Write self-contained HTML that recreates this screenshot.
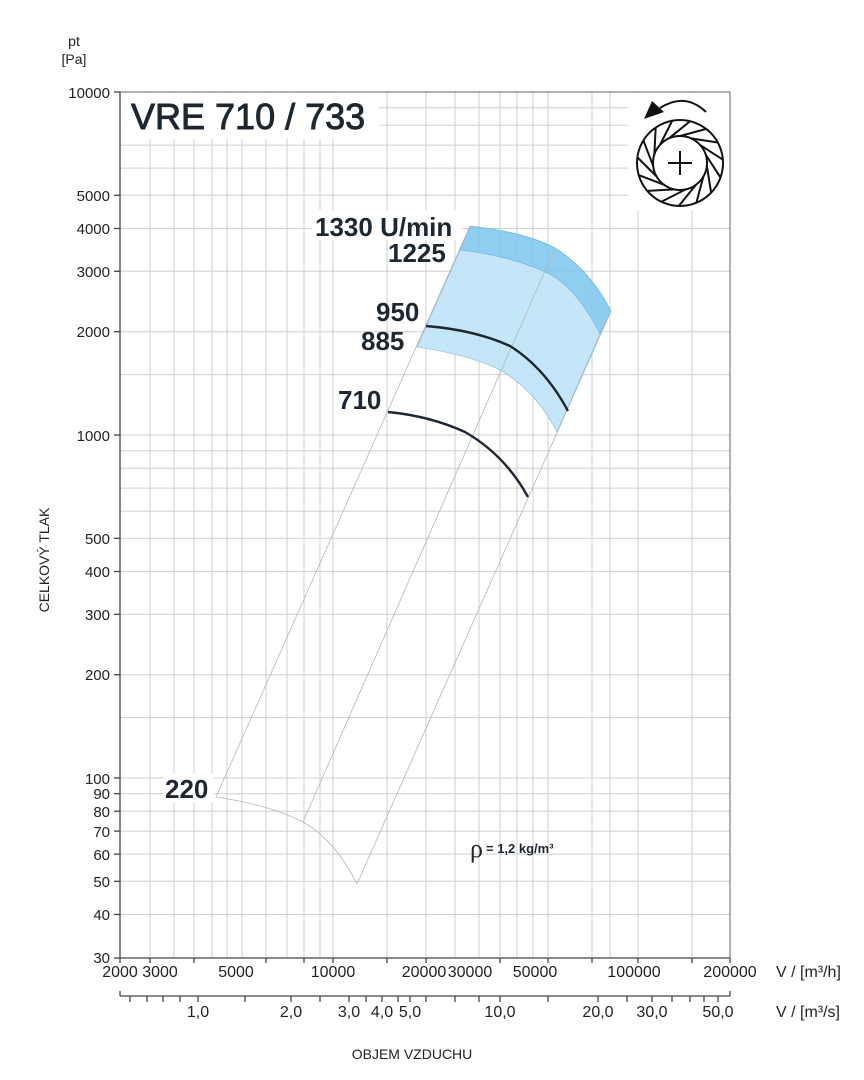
<!DOCTYPE html>
<html><head><meta charset="utf-8"><style>
body{margin:0;background:#fff}
svg{display:block;font-family:"Liberation Sans",Arial,sans-serif}
</style></head><body>
<svg width="864" height="1080" viewBox="0 0 864 1080" xmlns="http://www.w3.org/2000/svg">
<g stroke="#cfcfcf" stroke-width="1">
<line x1="150" y1="92" x2="150" y2="958"/><line x1="174" y1="92" x2="174" y2="958"/><line x1="194" y1="92" x2="194" y2="958"/><line x1="212" y1="92" x2="212" y2="958"/><line x1="227" y1="92" x2="227" y2="958"/><line x1="242" y1="92" x2="242" y2="958"/><line x1="266" y1="92" x2="266" y2="958"/><line x1="287" y1="92" x2="287" y2="958"/><line x1="304" y1="92" x2="304" y2="958"/><line x1="320" y1="92" x2="320" y2="958"/><line x1="333" y1="92" x2="333" y2="958"/><line x1="387" y1="92" x2="387" y2="958"/><line x1="426" y1="92" x2="426" y2="958"/><line x1="455" y1="92" x2="455" y2="958"/><line x1="479" y1="92" x2="479" y2="958"/><line x1="500" y1="92" x2="500" y2="958"/><line x1="517" y1="92" x2="517" y2="958"/><line x1="533" y1="92" x2="533" y2="958"/><line x1="548" y1="92" x2="548" y2="958"/><line x1="592" y1="92" x2="592" y2="958"/><line x1="610" y1="92" x2="610" y2="958"/><line x1="638" y1="92" x2="638" y2="958"/><line x1="692" y1="92" x2="692" y2="958"/>
<line x1="120" y1="107.7" x2="730" y2="107.7"/><line x1="120" y1="125.2" x2="730" y2="125.2"/><line x1="120" y1="145.1" x2="730" y2="145.1"/><line x1="120" y1="168.1" x2="730" y2="168.1"/><line x1="120" y1="195.3" x2="730" y2="195.3"/><line x1="120" y1="228.5" x2="730" y2="228.5"/><line x1="120" y1="271.3" x2="730" y2="271.3"/><line x1="120" y1="331.7" x2="730" y2="331.7"/><line x1="120" y1="374.6" x2="730" y2="374.6"/><line x1="120" y1="435" x2="730" y2="435"/><line x1="120" y1="450.7" x2="730" y2="450.7"/><line x1="120" y1="468.2" x2="730" y2="468.2"/><line x1="120" y1="488.1" x2="730" y2="488.1"/><line x1="120" y1="511.1" x2="730" y2="511.1"/><line x1="120" y1="538.3" x2="730" y2="538.3"/><line x1="120" y1="571.5" x2="730" y2="571.5"/><line x1="120" y1="614.3" x2="730" y2="614.3"/><line x1="120" y1="674.7" x2="730" y2="674.7"/><line x1="120" y1="717.6" x2="730" y2="717.6"/><line x1="120" y1="778" x2="730" y2="778"/><line x1="120" y1="793.7" x2="730" y2="793.7"/><line x1="120" y1="811.2" x2="730" y2="811.2"/><line x1="120" y1="831.1" x2="730" y2="831.1"/><line x1="120" y1="854.1" x2="730" y2="854.1"/><line x1="120" y1="881.3" x2="730" y2="881.3"/><line x1="120" y1="914.5" x2="730" y2="914.5"/>
</g>
<rect x="121" y="93" width="258" height="46" fill="#fff"/>
<rect x="628" y="93" width="101" height="117" fill="#fff"/>
<g stroke="#444" stroke-width="1.3" fill="none">
<line x1="120" y1="92" x2="120" y2="958"/>
<line x1="120" y1="958" x2="730" y2="958"/>
<line x1="120" y1="92" x2="730" y2="92" stroke="#666" stroke-width="1"/>
<line x1="730" y1="92" x2="730" y2="958" stroke="#666" stroke-width="1"/>
<line x1="114" y1="92" x2="120" y2="92"/><line x1="114" y1="195.3" x2="120" y2="195.3"/><line x1="114" y1="228.5" x2="120" y2="228.5"/><line x1="114" y1="271.3" x2="120" y2="271.3"/><line x1="114" y1="331.7" x2="120" y2="331.7"/><line x1="114" y1="435" x2="120" y2="435"/><line x1="114" y1="538.3" x2="120" y2="538.3"/><line x1="114" y1="571.5" x2="120" y2="571.5"/><line x1="114" y1="614.3" x2="120" y2="614.3"/><line x1="114" y1="674.7" x2="120" y2="674.7"/><line x1="114" y1="778" x2="120" y2="778"/><line x1="114" y1="793.7" x2="120" y2="793.7"/><line x1="114" y1="811.2" x2="120" y2="811.2"/><line x1="114" y1="831.1" x2="120" y2="831.1"/><line x1="114" y1="854.1" x2="120" y2="854.1"/><line x1="114" y1="881.3" x2="120" y2="881.3"/><line x1="114" y1="914.5" x2="120" y2="914.5"/><line x1="114" y1="958" x2="120" y2="958"/>
<line x1="120" y1="958" x2="120" y2="963"/><line x1="150" y1="958" x2="150" y2="963"/><line x1="194" y1="958" x2="194" y2="963"/><line x1="266" y1="958" x2="266" y2="963"/><line x1="304" y1="958" x2="304" y2="963"/><line x1="333" y1="958" x2="333" y2="963"/><line x1="387" y1="958" x2="387" y2="963"/><line x1="426" y1="958" x2="426" y2="963"/><line x1="500" y1="958" x2="500" y2="963"/><line x1="548" y1="958" x2="548" y2="963"/><line x1="592" y1="958" x2="592" y2="963"/><line x1="638" y1="958" x2="638" y2="963"/><line x1="692" y1="958" x2="692" y2="963"/><line x1="730" y1="958" x2="730" y2="963"/>
<line x1="120" y1="996" x2="730" y2="996"/><line x1="120" y1="991" x2="120" y2="996"/><line x1="730" y1="991" x2="730" y2="996"/>
<line x1="130" y1="996" x2="130" y2="1002"/><line x1="147" y1="996" x2="147" y2="1002"/><line x1="163" y1="996" x2="163" y2="1002"/><line x1="180" y1="996" x2="180" y2="1002"/><line x1="198" y1="996" x2="198" y2="1002"/><line x1="245" y1="996" x2="245" y2="1002"/><line x1="291" y1="996" x2="291" y2="1002"/><line x1="320" y1="996" x2="320" y2="1002"/><line x1="349" y1="996" x2="349" y2="1002"/><line x1="366" y1="996" x2="366" y2="1002"/><line x1="382" y1="996" x2="382" y2="1002"/><line x1="398" y1="996" x2="398" y2="1002"/><line x1="410" y1="996" x2="410" y2="1002"/><line x1="426" y1="996" x2="426" y2="1002"/><line x1="455" y1="996" x2="455" y2="1002"/><line x1="479" y1="996" x2="479" y2="1002"/><line x1="500" y1="996" x2="500" y2="1002"/><line x1="548" y1="996" x2="548" y2="1002"/><line x1="598" y1="996" x2="598" y2="1002"/><line x1="627" y1="996" x2="627" y2="1002"/><line x1="652" y1="996" x2="652" y2="1002"/><line x1="672" y1="996" x2="672" y2="1002"/><line x1="690" y1="996" x2="690" y2="1002"/><line x1="704" y1="996" x2="704" y2="1002"/><line x1="718" y1="996" x2="718" y2="1002"/>
</g>
<path d="M470,226 Q525,232 555,248 Q590,270 611,311 L600,334 Q575,285 545,272 Q510,256 460,250 Z" fill="#7cc6ee" fill-opacity="0.85" stroke="#5aa8d8" stroke-width="0.6"/>
<path d="M460,250 Q510,256 545,272 Q575,285 600,334 L557,432 Q535,390 500,370 Q470,355 417,347 Z" fill="#bfe3f7" fill-opacity="0.9" stroke="#7ab8de" stroke-width="0.6"/>
<g stroke="#b5b5b5" stroke-width="0.8" fill="none">
<line x1="216" y1="797" x2="470" y2="226"/>
<line x1="303" y1="822" x2="555" y2="248"/>
<line x1="357" y1="884" x2="611" y2="311"/>
<path d="M216,797 Q270,805 303,822 Q335,840 357,884"/>
</g>
<path d="M426,326 Q475,330 510,346 Q545,368 568,411" fill="none" stroke="#1e2630" stroke-width="2.4"/>
<path d="M388,412 Q430,416 465,432 Q505,455 528,497" fill="none" stroke="#1e2630" stroke-width="2.4"/>
<g fill="#1e2630" font-weight="bold" font-size="26">
<rect x="312" y="210" width="150" height="30" fill="#fff"/>
<text x="315" y="236">1330 U/min</text>
<text x="388" y="262">1225</text>
<text x="376" y="321">950</text>
<text x="361" y="350">885</text>
<text x="338" y="409">710</text>
<rect x="164" y="774" width="50" height="28" fill="#fff"/>
<text x="165" y="798">220</text>
</g>
<text x="131" y="129" font-size="36" fill="#1e2630" stroke="#1e2630" stroke-width="0.9">VRE 710 / 733</text>
<text x="470" y="857" font-family="Liberation Serif,serif" font-size="26" fill="#1e2630">ρ</text>
<text x="486" y="853" font-size="13" font-weight="bold" fill="#1e2630">= 1,2 kg/m³</text>
<g font-size="15" fill="#222" text-anchor="end">
<text x="110" y="98">10000</text><text x="110" y="201">5000</text><text x="110" y="234">4000</text><text x="110" y="277">3000</text><text x="110" y="337">2000</text><text x="110" y="441">1000</text><text x="110" y="544">500</text><text x="110" y="577">400</text><text x="110" y="620">300</text><text x="110" y="680">200</text><text x="110" y="784">100</text><text x="110" y="799">90</text><text x="110" y="817">80</text><text x="110" y="837">70</text><text x="110" y="860">60</text><text x="110" y="887">50</text><text x="110" y="920">40</text><text x="110" y="963">30</text>
</g>
<text x="74" y="46" font-size="14" fill="#222" text-anchor="middle">pt</text>
<text x="74" y="64" font-size="14" fill="#222" text-anchor="middle">[Pa]</text>
<text transform="translate(49,560) rotate(-90)" font-size="14" fill="#222" text-anchor="middle">CELKOVÝ TLAK</text>
<g font-size="16" fill="#222" text-anchor="middle">
<text x="120" y="977">2000</text><text x="160" y="977">3000</text><text x="236" y="977">5000</text><text x="333" y="977">10000</text><text x="424" y="977">20000</text><text x="470" y="977">30000</text><text x="535" y="977">50000</text><text x="634" y="977">100000</text><text x="730" y="977">200000</text>
<text x="198" y="1017">1,0</text><text x="291" y="1017">2,0</text><text x="349" y="1017">3,0</text><text x="382" y="1017">4,0</text><text x="410" y="1017">5,0</text><text x="500" y="1017">10,0</text><text x="598" y="1017">20,0</text><text x="652" y="1017">30,0</text><text x="718" y="1017">50,0</text>
</g>
<text x="776" y="977" font-size="16" fill="#222">V / [m³/h]</text>
<text x="776" y="1017" font-size="16" fill="#222">V / [m³/s]</text>
<text x="412" y="1059" font-size="14" fill="#222" text-anchor="middle">OBJEM VZDUCHU</text>
<g stroke="#111" stroke-width="2" fill="none">
<circle cx="680" cy="163" r="43"/>
<circle cx="680" cy="163" r="27"/>
<line x1="680" y1="151" x2="680" y2="175"/><line x1="668" y1="163" x2="692" y2="163"/>
<path d="M706,112 Q685,92 660,108"/>
<g transform="translate(680,163)">
<line x1="0" y1="-27" x2="26" y2="-34" transform="rotate(0)"/>
<line x1="0" y1="-27" x2="26" y2="-34" transform="rotate(24)"/>
<line x1="0" y1="-27" x2="26" y2="-34" transform="rotate(48)"/>
<line x1="0" y1="-27" x2="26" y2="-34" transform="rotate(72)"/>
<line x1="0" y1="-27" x2="26" y2="-34" transform="rotate(96)"/>
<line x1="0" y1="-27" x2="26" y2="-34" transform="rotate(120)"/>
<line x1="0" y1="-27" x2="26" y2="-34" transform="rotate(144)"/>
<line x1="0" y1="-27" x2="26" y2="-34" transform="rotate(168)"/>
<line x1="0" y1="-27" x2="26" y2="-34" transform="rotate(192)"/>
<line x1="0" y1="-27" x2="26" y2="-34" transform="rotate(216)"/>
<line x1="0" y1="-27" x2="26" y2="-34" transform="rotate(240)"/>
<line x1="0" y1="-27" x2="26" y2="-34" transform="rotate(264)"/>
<line x1="0" y1="-27" x2="26" y2="-34" transform="rotate(288)"/>
<line x1="0" y1="-27" x2="26" y2="-34" transform="rotate(312)"/>
<line x1="0" y1="-27" x2="26" y2="-34" transform="rotate(336)"/>
</g>
</g>
<path d="M644,119 L652,101 L664,112 Z" fill="#111"/>
</svg>
</body></html>
